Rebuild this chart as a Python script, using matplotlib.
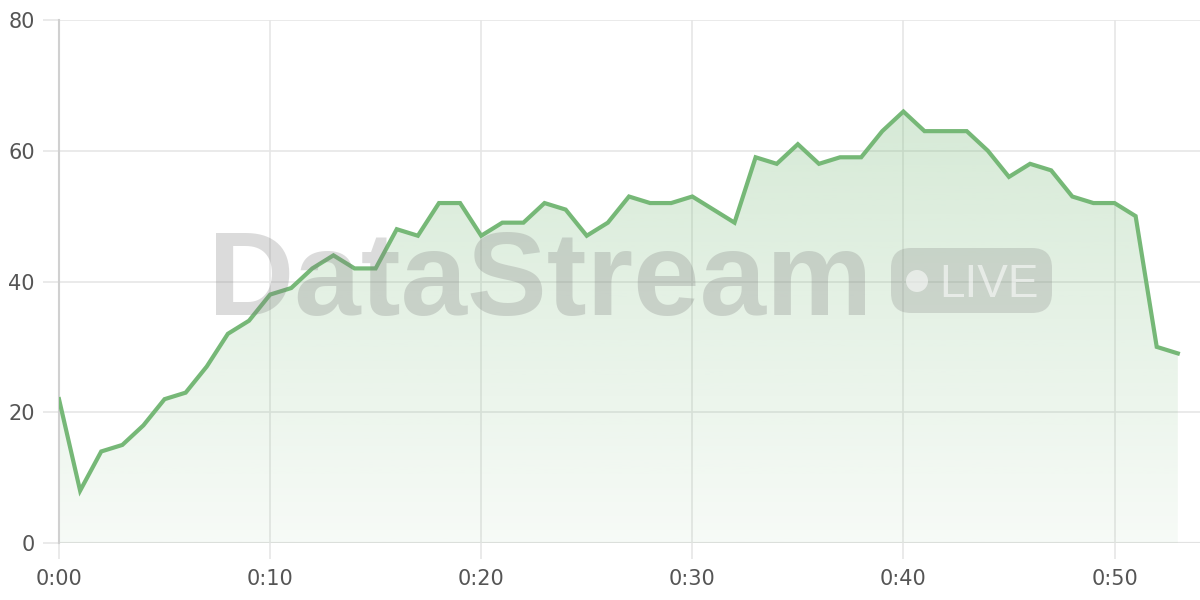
import numpy as np
import matplotlib
matplotlib.use("Agg")
import matplotlib.pyplot as plt
from matplotlib.patches import FancyBboxPatch, Circle
from matplotlib.colors import LinearSegmentedColormap

minutes = list(range(54))
values = [22, 8, 14, 15, 18, 22, 23, 27, 32, 34,
          38, 39, 42, 44, 42, 42, 48, 47, 52, 52,
          47, 49, 49, 52, 51, 47, 49, 53, 52, 52,
          53, 51, 49, 59, 58, 61, 58, 59, 59, 63,
          66, 63, 63, 63, 60, 56, 58, 57, 53, 52,
          52, 50, 30, 29]
x_ticks = [0, 10, 20, 30, 40, 50]
x_labels = ["0:00", "0:10", "0:20", "0:30", "0:40", "0:50"]
y_ticks = [0, 20, 40, 60, 80]

line_color = "#76b877"
grid_color = "#e6e6e6"

W, H = 1200, 600
fig = plt.figure(figsize=(12, 6), dpi=100)
ax = fig.add_axes([59/W, 57/H, 1 - 59/W, (543-20)/H])
ax.set_xlim(0, 54.05)
ax.set_ylim(0, 80)

# gradient fill
x = np.array(minutes, dtype=float)
y = np.array(values, dtype=float)
poly = ax.fill_between(x, y, 0, color="none", lw=0)
cmap = LinearSegmentedColormap.from_list("g", [(118/255, 184/255, 119/255, 0.06),
                                              (118/255, 184/255, 119/255, 0.30)])
grad = np.linspace(0, 1, 256).reshape(-1, 1)
im = ax.imshow(grad, cmap=cmap, aspect="auto", origin="lower",
               extent=[0, x.max(), 0, y.max()], zorder=1)
path = poly.get_paths()[0]
im.set_clip_path(path, transform=ax.transData)

ax.plot(x, y, color=line_color, lw=3, zorder=4, solid_joinstyle="miter")

ax.set_xticks(x_ticks)
ax.set_xticklabels(x_labels)
ax.set_yticks(y_ticks)
ax.grid(True, color=grid_color, lw=1.2, zorder=0)
ax.set_axisbelow(True)
for s in ["top", "right", "bottom"]:
    ax.spines[s].set_visible(False)
ax.spines["left"].set_color("#d0d0d0")
ax.spines["left"].set_linewidth(1.5)
ax.axhline(0, color="#d0d0d0", lw=1.5, zorder=0.5)
ax.tick_params(axis="both", length=11.5, width=1.2, color=grid_color,
               labelsize=15, labelcolor="#555555")
ax.tick_params(axis="y", pad=6)
ax.tick_params(axis="x", pad=7)
for lab in ax.get_xticklabels() + ax.get_yticklabels():
    lab.set_family("DejaVu Sans")

# watermark
wm_gray = (0.5, 0.5, 0.5, 0.28)
fig.text(540/W, 1 - 315/H, "DataStream", fontsize=86, fontweight="bold",
         family="Liberation Sans", color=wm_gray, ha="center", va="baseline",
         zorder=3)
pill = FancyBboxPatch((891, H - 313), 161, 65,
                      boxstyle="round,pad=0,rounding_size=20",
                      transform=None, facecolor=(0.5, 0.5, 0.5, 0.25),
                      edgecolor="none", zorder=3)
fig.patches.append(pill)
dot = Circle((917, H - 281), 11, transform=None, facecolor=(1, 1, 1, 0.55),
             edgecolor="none", zorder=3.5)
fig.patches.append(dot)
fig.text(939/W, 1 - 297/H, "LIVE", fontsize=33, family="Liberation Sans",
         color=(1, 1, 1, 0.55), ha="left", va="baseline", zorder=3.5)

fig.savefig("out.png", dpi=100)
